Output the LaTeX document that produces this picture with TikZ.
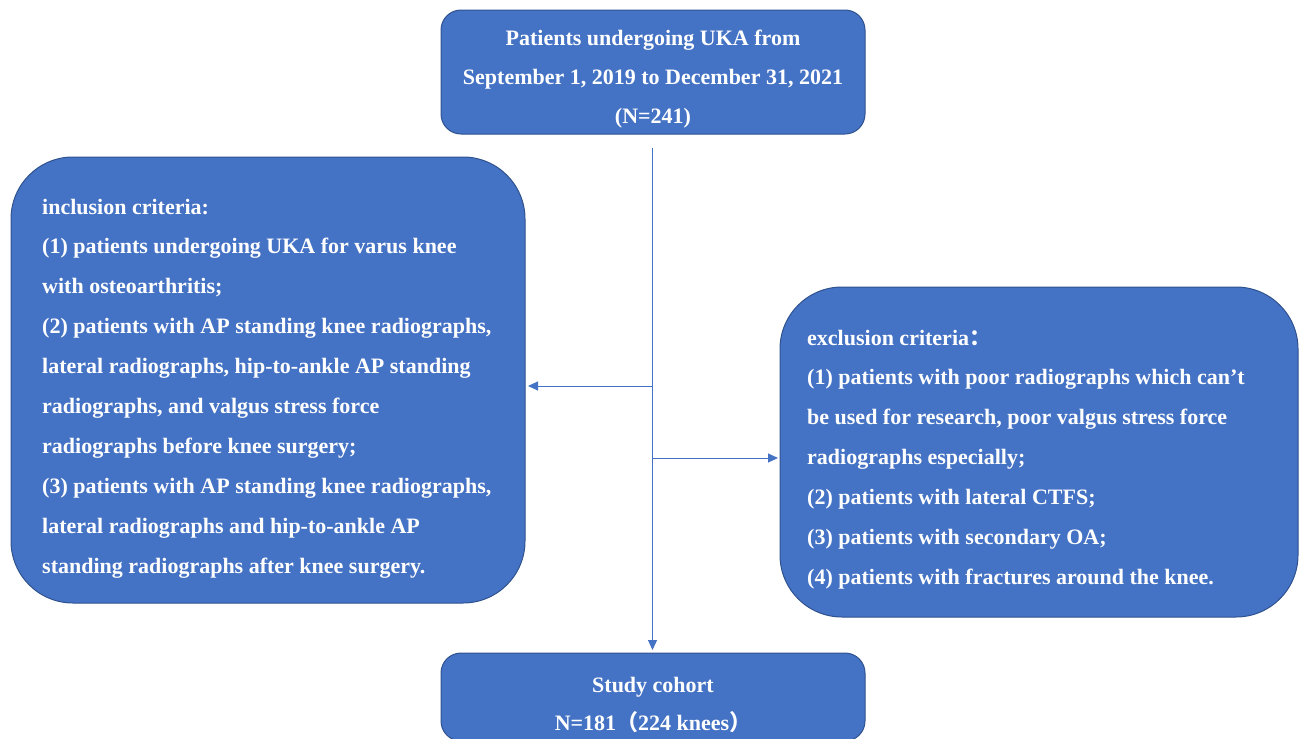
\documentclass[tikz,border=0pt]{standalone}
\usepackage{fontspec}
\setmainfont{Liberation Serif}
\newfontfamily\cjk{Noto Sans CJK SC}
\usetikzlibrary{arrows.meta}
\definecolor{boxfill}{HTML}{4472C4}
\definecolor{boxline}{HTML}{2F528F}
\definecolor{conn}{HTML}{4472C4}
\begin{document}
\begin{tikzpicture}[x=1pt,y=-1pt,
  box/.style={draw=boxline, line width=1pt, fill=boxfill, inner sep=0pt, outer sep=0pt},
  txt/.style={text=white, font=\fontsize{22}{39.8}\selectfont\bfseries, inner sep=0pt},
  conn/.style={draw=conn, line width=1pt, -{Triangle[length=10pt,width=9pt]}}]
\useasboundingbox (0,0) rectangle (1299,739);
% boxes
\node[box, rounded corners=20pt, minimum width=424pt, minimum height=124pt] (top) at (653,72) {};
\node[box, rounded corners=62pt, minimum width=514pt, minimum height=446pt] (inc) at (268,380) {};
\node[box, rounded corners=62pt, minimum width=518pt, minimum height=330pt] (exc) at (1039,452) {};
\node[box, rounded corners=20pt, minimum width=424pt, minimum height=88pt] (coh) at (653,697) {};
% texts
\foreach \t [count=\i from 0] in {{Patients undergoing UKA from},{September 1, 2019 to December 31, 2021},{(N=241)}}
  \node[txt, anchor=base] (toptxt-\i) at (653,{45+39*\i}) {\t};
\foreach \t [count=\i from 0] in {{inclusion criteria:},{(1) patients undergoing UKA for varus knee},{with osteoarthritis;},{(2) patients with AP standing knee radiographs,},{lateral radiographs, hip-to-ankle AP standing},{radiographs, and valgus stress force},{radiographs before knee surgery;},{(3) patients with AP standing knee radiographs,},{lateral radiographs and hip-to-ankle AP},{standing radiographs after knee surgery.}}
  \node[txt, anchor=base west] (inctxt-\i) at (42,{214+39.9*\i}) {\t};
\foreach \t [count=\i from 0] in {{exclusion criteria{\cjk ：}},{(1) patients with poor radiographs which can’t},{be used for research, poor valgus stress force},{radiographs especially;},{(2) patients with lateral CTFS;},{(3) patients with secondary OA;},{(4) patients with fractures around the knee.}}
  \node[txt, anchor=base west] (exctxt-\i) at (807,{345+39.9*\i}) {\t};
\node[txt, anchor=base] (cohtxt-0) at (653,692) {Study cohort};
\node[txt, anchor=base] (cohtxt-1) at (653,730) {N=181{\cjk （}224 knees{\cjk ）}};
% connectors
\coordinate (trunk) at (652.5,148);
\coordinate (bl) at (652.5,386);
\coordinate (br) at (652.5,458);
\draw[conn, shorten >=3pt] (trunk) -- (trunk |- coh.north);
\draw[conn, shorten >=3pt] (bl) -- (inc.east |- bl);
\draw[conn, shorten >=2pt] (br) -- (exc.west |- br);
\end{tikzpicture}
\end{document}
